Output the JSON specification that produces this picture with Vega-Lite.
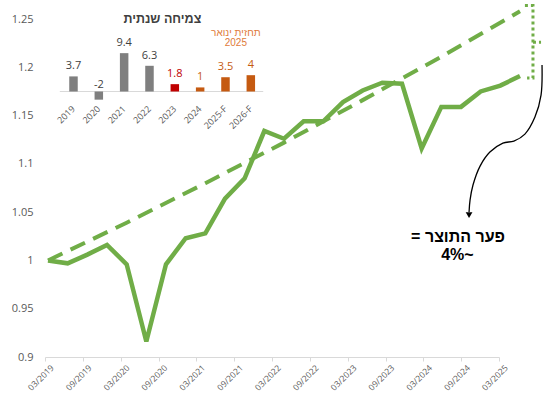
{
  "$schema": "https://vega.github.io/schema/vega-lite/v6.json",
  "width": 457,
  "height": 338,
  "autosize": {"type": "none"},
  "padding": {"left": 45, "top": 19, "right": 42, "bottom": 37},
  "background": "white",
  "config": {"view": {"stroke": null}, "font": "Open Sans"},
  "datasets": {
    "gdp": [
      {"period": "03/2019", "q": 0, "v": 1.000},
      {"period": "06/2019", "q": 1, "v": 0.997},
      {"period": "09/2019", "q": 2, "v": 1.006},
      {"period": "12/2019", "q": 3, "v": 1.016},
      {"period": "03/2020", "q": 4, "v": 0.996},
      {"period": "06/2020", "q": 5, "v": 0.916},
      {"period": "09/2020", "q": 6, "v": 0.996},
      {"period": "12/2020", "q": 7, "v": 1.023},
      {"period": "03/2021", "q": 8, "v": 1.028},
      {"period": "06/2021", "q": 9, "v": 1.064},
      {"period": "09/2021", "q": 10, "v": 1.085},
      {"period": "12/2021", "q": 11, "v": 1.134},
      {"period": "03/2022", "q": 12, "v": 1.126},
      {"period": "06/2022", "q": 13, "v": 1.144},
      {"period": "09/2022", "q": 14, "v": 1.144},
      {"period": "12/2022", "q": 15, "v": 1.164},
      {"period": "03/2023", "q": 16, "v": 1.176},
      {"period": "06/2023", "q": 17, "v": 1.184},
      {"period": "09/2023", "q": 18, "v": 1.183},
      {"period": "12/2023", "q": 19, "v": 1.116},
      {"period": "03/2024", "q": 20, "v": 1.159},
      {"period": "06/2024", "q": 21, "v": 1.159},
      {"period": "09/2024", "q": 22, "v": 1.175},
      {"period": "12/2024", "q": 23, "v": 1.181},
      {"period": "03/2025", "q": 24, "v": 1.191}
    ],
    "trend": [
      {"q": 0, "v": 1.000},
      {"q": 4, "v": 1.039},
      {"q": 8, "v": 1.080},
      {"q": 12, "v": 1.122},
      {"q": 16, "v": 1.166},
      {"q": 20, "v": 1.211},
      {"q": 24, "v": 1.258}
    ],
    "bracket": [
      {"part": "a", "order": 1, "q": 24.25, "v": 1.264},
      {"part": "a", "order": 2, "q": 24.66, "v": 1.264},
      {"part": "a", "order": 3, "q": 24.66, "v": 1.189},
      {"part": "a", "order": 4, "q": 24.36, "v": 1.189},
      {"part": "b", "order": 1, "q": 24.66, "v": 1.226},
      {"part": "b", "order": 2, "q": 25.07, "v": 1.226}
    ],
    "arrow": [
      {"order": 1, "q": 25.12, "v": 1.2023},
      {"order": 2, "q": 25.07, "v": 1.1712},
      {"order": 3, "q": 24.76, "v": 1.1484},
      {"order": 4, "q": 24.25, "v": 1.1308},
      {"order": 5, "q": 23.69, "v": 1.1236},
      {"order": 6, "q": 23.13, "v": 1.1215},
      {"order": 7, "q": 22.47, "v": 1.1122},
      {"order": 8, "q": 21.97, "v": 1.0977},
      {"order": 9, "q": 21.61, "v": 1.0781},
      {"order": 10, "q": 21.46, "v": 1.0625},
      {"order": 11, "q": 21.41, "v": 1.0501}
    ],
    "arrowhead": [{"q": 21.41, "v": 1.047}],
    "note": [
      {"q": 20.85, "v": 1.0242, "text": "\u200Fפער התוצר =\u200F"},
      {"q": 20.82, "v": 1.0053, "text": "\u200F~4%\u200F"}
    ],
    "ticks": [
      {"label": "03/2019"}, {"label": "09/2019"}, {"label": "03/2020"}, {"label": "09/2020"},
      {"label": "03/2021"}, {"label": "09/2021"}, {"label": "03/2022"}, {"label": "09/2022"},
      {"label": "03/2023"}, {"label": "09/2023"}, {"label": "03/2024"}, {"label": "09/2024"},
      {"label": "03/2025"}
    ],
    "growth": [
      {"year": "2019", "i": 0, "growth": 3.7, "kind": "actual"},
      {"year": "2020", "i": 1, "growth": -2, "kind": "actual"},
      {"year": "2021", "i": 2, "growth": 9.4, "kind": "actual"},
      {"year": "2022", "i": 3, "growth": 6.3, "kind": "actual"},
      {"year": "2023", "i": 4, "growth": 1.8, "kind": "latest"},
      {"year": "2024", "i": 5, "growth": 1, "kind": "forecast"},
      {"year": "2025-F", "i": 6, "growth": 3.5, "kind": "forecast"},
      {"year": "2026-F", "i": 7, "growth": 4, "kind": "forecast"}
    ],
    "insetText": [
      {"i": 3.51, "g": 17.77, "text": "צמיחה שנתית", "role": "title"},
      {"i": 6.41, "g": 14.34, "text": "תחזית ינואר", "role": "sub"},
      {"i": 6.41, "g": 11.89, "text": "2025", "role": "sub"}
    ],
    "baseline": [{"i": -0.54, "i2": 7.49, "g": 0}]
  },
  "layer": [
    {
      "encoding": {
        "x": {"field": "q", "type": "quantitative", "scale": {"domain": [-0.1525, 23.085], "nice": false, "zero": false}, "axis": null},
        "y": {"field": "v", "type": "quantitative", "scale": {"domain": [0.9, 1.25], "nice": false, "zero": false},
              "axis": {"values": [0.9, 0.95, 1, 1.05, 1.1, 1.15, 1.2, 1.25], "format": ".2~f", "domain": false, "ticks": false, "grid": false,
                       "labelPadding": 12, "labelFontSize": 11, "labelColor": "#595959", "title": null}}
      },
      "layer": [
        {"data": {"name": "gdp"}, "mark": {"type": "line", "color": "#70AD47", "strokeWidth": 4.5, "strokeJoin": "miter"}},
        {"data": {"name": "trend"}, "mark": {"type": "line", "color": "#70AD47", "strokeWidth": 4, "strokeDash": [16, 9]}},
        {"data": {"name": "bracket"}, "mark": {"type": "line", "color": "#70AD47", "strokeWidth": 3, "strokeDash": [3, 3]},
         "encoding": {"detail": {"field": "part"}, "order": {"field": "order"}}},
        {"data": {"name": "arrow"}, "mark": {"type": "line", "color": "black", "strokeWidth": 1.3, "interpolate": "catmull-rom"},
         "encoding": {"order": {"field": "order"}}},
        {"data": {"name": "arrowhead"}, "mark": {"type": "point", "shape": "triangle-down", "filled": true, "color": "black", "size": 45, "opacity": 1}},
        {"data": {"name": "note"}, "mark": {"type": "text", "font": "Liberation Sans", "fontWeight": "bold", "fontSize": 16, "color": "black", "align": "center", "baseline": "middle"},
         "encoding": {"text": {"field": "text"}}}
      ]
    },
    {
      "data": {"name": "ticks"},
      "mark": {"type": "point", "opacity": 0},
      "encoding": {
        "x": {"field": "label", "type": "ordinal", "sort": null, "scale": {"type": "point", "padding": 0, "range": [0, 454]},
              "axis": {"title": null, "labelAngle": -45, "labelFontSize": 8.5, "labelColor": "#595959", "domainColor": "#D9D9D9", "tickColor": "#D9D9D9", "tickSize": 4, "labelPadding": 2, "labelOffset": 4, "grid": false}}
      }
    },
    {
      "encoding": {
        "x": {"field": "i", "type": "quantitative", "scale": {"domain": [-0.927, 16.718], "nice": false, "zero": false}, "axis": null},
        "y": {"field": "growth", "type": "quantitative", "scale": {"domain": [-65.07, 17.77], "nice": false, "zero": false}, "axis": null}
      },
      "layer": [
        {"data": {"name": "baseline"}, "mark": {"type": "rule", "color": "#D9D9D9", "strokeWidth": 1},
         "encoding": {"x": {"field": "i", "type": "quantitative"}, "x2": {"field": "i2"}, "y": {"field": "g", "type": "quantitative"}}},
        {"data": {"name": "growth"}, "mark": {"type": "bar", "width": 8.5},
         "encoding": {"color": {"field": "kind", "type": "nominal", "scale": {"domain": ["actual", "latest", "forecast"], "range": ["#7F7F7F", "#C00000", "#C55A11"]}, "legend": null}}},
        {"data": {"name": "growth"}, "transform": [{"filter": "datum.growth >= 0"}],
         "mark": {"type": "text", "fontSize": 11, "dy": -10, "baseline": "middle"},
         "encoding": {"text": {"field": "growth"},
                      "color": {"condition": {"test": "datum.kind == 'actual'", "value": "#404040"}, "field": "kind", "type": "nominal", "legend": null}}},
        {"data": {"name": "growth"}, "transform": [{"filter": "datum.growth < 0"}],
         "mark": {"type": "text", "fontSize": 11, "dy": -7, "baseline": "middle", "color": "#404040"},
         "encoding": {"y": {"datum": 0, "type": "quantitative"}, "text": {"field": "growth"}}},
        {"data": {"name": "growth"},
         "mark": {"type": "text", "fontSize": 9, "angle": -45, "align": "right", "baseline": "middle", "color": "#595959"},
         "encoding": {"y": {"datum": -3.9, "type": "quantitative"}, "text": {"field": "year"}}},
        {"data": {"name": "insetText"}, "transform": [{"filter": "datum.role == 'title'"}],
         "mark": {"type": "text", "font": "Liberation Sans", "fontWeight": "bold", "fontSize": 12.5, "color": "#404040", "baseline": "middle"},
         "encoding": {"y": {"field": "g", "type": "quantitative"}, "text": {"field": "text"}}},
        {"data": {"name": "insetText"}, "transform": [{"filter": "datum.role == 'sub'"}],
         "mark": {"type": "text", "font": "Liberation Sans", "fontSize": 10, "color": "#E07B39", "baseline": "middle"},
         "encoding": {"y": {"field": "g", "type": "quantitative"}, "text": {"field": "text"}}}
      ]
    }
  ],
  "resolve": {"scale": {"x": "independent", "y": "independent"}}
}
